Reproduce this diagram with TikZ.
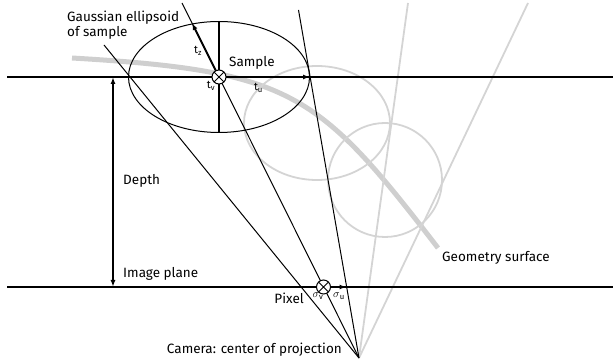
\documentclass[tikz,border=0pt]{standalone}
\usepackage{fontspec}
\setmainfont{Fira Sans}
\usetikzlibrary{arrows.meta,calc}
\definecolor{lgray}{HTML}{D4D4D4}
\definecolor{sgray}{HTML}{CFCFCF}
\tikzset{
  thickline/.style={line width=2pt},
  thinline/.style={line width=1pt},
  grayline/.style={line width=1.8pt, lgray},
  lbl/.style={inner sep=0pt, font=\fontsize{13.5}{15.5}\selectfont},
  sublbl/.style={inner sep=0pt, font=\fontsize{11}{12}\selectfont},
  arr/.style={-{Latex[length=7pt,width=5pt]}},
  xmark/.style={circle, draw, fill=white, line width=1pt, minimum size=14pt, inner sep=0pt,
    path picture={\draw[line width=0.9pt] (path picture bounding box.north west) -- (path picture bounding box.south east)
      (path picture bounding box.north east) -- (path picture bounding box.south west);}},
}
\begin{document}
\begin{tikzpicture}[x=1pt,y=-1pt]
\useasboundingbox (0,0) rectangle (613,363);
% coordinates
\coordinate (cam) at (359,358);
\coordinate (l1top) at (104,45);
\coordinate (l2top) at (182,3);
\coordinate (l3top) at (298.5,10);
\coordinate (g1top) at (408,3);
\coordinate (g2top) at (528,3);
% gray objects
\draw[sgray, line width=5pt] (72,58) .. controls (292,71) and (318,92) .. (438,248);
\draw[grayline] (317,123) ellipse [x radius=73, y radius=57];
\draw[grayline] (385,180) circle [radius=57];
\draw[grayline] (cam) -- (g1top);
\draw[grayline] (cam) -- (g2top);
% horizontal planes
\coordinate (sl) at (7,77); \coordinate (sr) at (613,77);
\coordinate (il) at (7,287); \coordinate (ir) at (613,287);
\draw[thickline] (sl) -- (sr);
\draw[thickline] (il) -- (ir);
% ellipse
\draw[thinline] (219,77) ellipse [x radius=90.5, y radius=55.5];
\coordinate (vtop) at (219,21.5); \coordinate (vbot) at (219,132.5);
\draw[thickline] (vtop) -- (vbot);
% projection lines
\draw[thinline] (cam) -- (l1top);
\draw[thinline] (cam) -- (l2top);
\draw[thinline] (cam) -- (l3top);
% sample axes
\node[xmark] (smp) at (219,77) {};
\coordinate (tzend) at (192,23);
\coordinate (tuend) at (310,77);
\draw[thickline, arr] (smp) -- (tzend);
\draw[thickline, arr] (smp) -- (tuend);
% depth arrow
\coordinate (dtop) at (113,77); \coordinate (dbot) at (113,287);
\draw[line width=1.8pt, {Latex[length=7pt,width=5pt]}-{Latex[length=7pt,width=5pt]}] (dtop) -- (dbot);
% pixel
\node[xmark] (pix) at (323.5,287) {};
\coordinate (pxend) at (346.5,287);
\draw[thickline, arr] (pix) -- (pxend);
% labels
\node[lbl, anchor=west, align=left] (gauss) at (67,25) {Gaussian ellipsoid\\of sample};
\node[lbl, anchor=west] (samplelbl) at (229,63) {Sample};
\node[sublbl] (tz) at (198,51) {t\textsubscript{z}};
\node[sublbl] (tv) at (211,86) {t\textsubscript{v}};
\node[sublbl] (tu) at (258.5,88) {t\textsubscript{u}};
\node[lbl, anchor=west] (depth) at (123,181) {Depth};
\node[lbl, anchor=west] (imgpl) at (123,274) {Image plane};
\node[lbl, anchor=east] (pixel) at (304,298) {Pixel};
\node[sublbl] (sv) at (318,296) {$\sigma$\textsubscript{v}};
\node[sublbl] (su) at (339,296) {$\sigma$\textsubscript{u}};
\node[lbl, anchor=east] (camlbl) at (342,350) {Camera: center of projection};
\node[lbl, anchor=west] (geom) at (442,258) {Geometry surface};
\end{tikzpicture}
\end{document}
